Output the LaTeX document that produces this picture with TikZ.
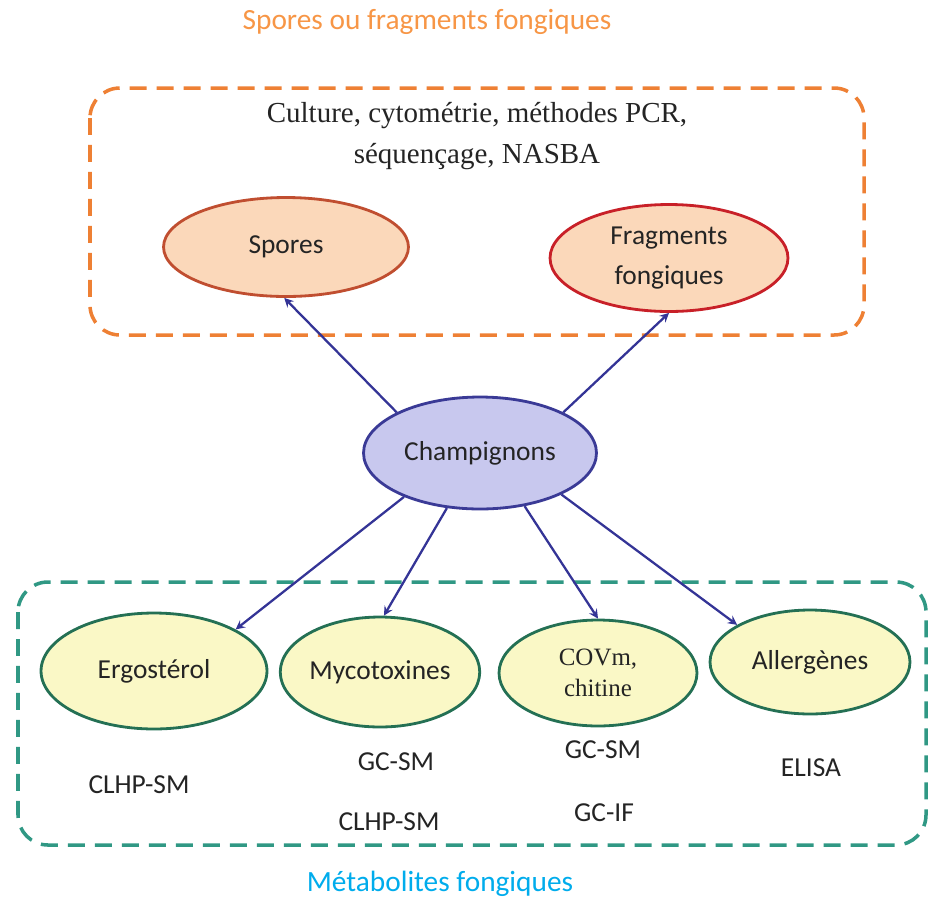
\documentclass[tikz,border=0pt]{standalone}
\usepackage{fontspec}
\setmainfont{Liberation Serif}
\setsansfont{Carlito}
\usepackage{tikz}
\usetikzlibrary{shapes.geometric}

\definecolor{titleorange}{RGB}{247,150,70}
\definecolor{boxorange}{RGB}{238,128,52}
\definecolor{peach}{RGB}{251,216,186}
\definecolor{sporered}{RGB}{192,78,48}
\definecolor{fragred}{RGB}{200,32,40}
\definecolor{lavender}{RGB}{200,200,238}
\definecolor{champblue}{RGB}{58,58,150}
\definecolor{arrowblue}{RGB}{52,52,150}
\definecolor{paleyellow}{RGB}{250,248,198}
\definecolor{metgreen}{RGB}{36,112,84}
\definecolor{boxteal}{RGB}{48,152,132}
\definecolor{metblue}{RGB}{0,172,236}
\definecolor{labelgray}{RGB}{36,36,36}

\tikzset{
  lbl/.style={font=\sffamily\fontsize{15.6}{22.5}\selectfont, text=labelgray, align=center},
  blob/.style={ellipse, draw, line width=1.6pt, inner sep=0pt, lbl},
  topblob/.style={blob, fill=peach},
  botblob/.style={blob, fill=paleyellow, draw=metgreen},
  link/.style={draw=arrowblue, line width=1.3pt, -stealth},
  dashbox/.style={line width=2pt, rounded corners=0.6cm, dash pattern=on 0.34cm off 0.2cm}
}

\begin{document}
\begin{tikzpicture}[x=0.02cm,y=-0.02cm]
        \useasboundingbox (0,0) rectangle (930,897);

        % spores and fragments
        \node[font=\sffamily\fontsize{16.7}{20}\selectfont, text=titleorange] (title) at (427,22) {Spores ou fragments fongiques};
        \draw[dashbox, draw=boxorange] (90,88) rectangle (864,335);
        \node[font=\rmfamily\fontsize{16.5}{23.5}\selectfont, text=labelgray, align=center] (methods) at (477,136)
          {Culture, cytométrie, méthodes PCR,\\ séquençage, NASBA};
        \node[topblob, draw=sporered, minimum width=4.9cm, minimum height=1.98cm] (spores) at (286,247) {Spores};
        \node[topblob, draw=fragred, minimum width=4.76cm, minimum height=2.14cm] (frag) at (669,258) {Fragments\\ fongiques};

        % centre
        \node[blob, fill=lavender, draw=champblue, minimum width=4.66cm, minimum height=2.24cm] (champ) at (480,453) {Champignons};

        % metabolites
        \draw[dashbox, draw=boxteal] (18,582) rectangle (926,845);
        \node[botblob, minimum width=4.52cm, minimum height=2.32cm] (ergo) at (154,671) {Ergostérol};
        \node[botblob, minimum width=3.88cm, minimum height=2.2cm] (myco) at (380,672) {Mycotoxines};
        \node[botblob, minimum width=3.96cm, minimum height=2.12cm, font=\rmfamily\fontsize{14.2}{17.5}\selectfont] (covm) at (598,673) {COVm,\\ chitine};
        \node[botblob, minimum width=4cm, minimum height=2.08cm] (allerg) at (810,662) {Allergènes};

        \node[lbl] (ergoA) at (139,785) {CLHP-SM};
        \node[lbl] (mycoA) at (396,762) {GC-SM};
        \node[lbl] (mycoB) at (389,822) {CLHP-SM};
        \node[lbl] (covmA) at (603,750) {GC-SM};
        \node[lbl] (covmB) at (604,813) {GC-IF};
        \node[lbl] (allergA) at (811,768) {ELISA};

        \node[font=\sffamily\fontsize{16.7}{20}\selectfont, text=metblue] (met) at (440,884) {Métabolites fongiques};

        % arrows
        \draw[link] (champ.154) -- (spores.268);
        \draw[link] (champ.26) -- (frag.south);
        \draw[link] (champ.210) -- (ergo.27);
        \draw[link] (champ.239) -- (myco.86);
        \draw[link] (champ.310) -- (covm.north);
        \draw[link] (champ.333) -- (allerg.153);
      \end{tikzpicture}
\end{document}
